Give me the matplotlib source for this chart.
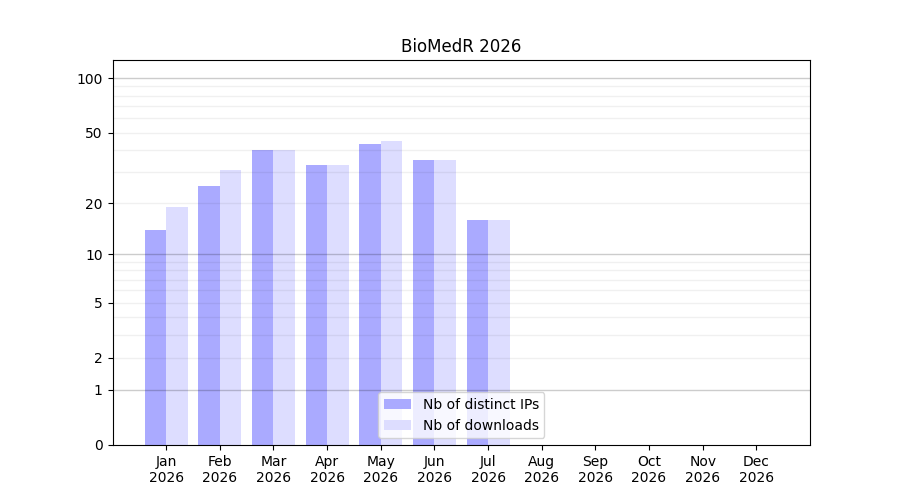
import numpy as np
import matplotlib
matplotlib.use("Agg")
import matplotlib.pyplot as plt

months = ["Jan", "Feb", "Mar", "Apr", "May", "Jun", "Jul", "Aug", "Sep", "Oct", "Nov", "Dec"]
year = "2026"
ips = [14, 25, 40, 33, 43, 35, 16, 0, 0, 0, 0, 0]
downloads = [19, 31, 40, 33, 45, 35, 16, 0, 0, 0, 0, 0]
ytick_vals = [0, 1, 2, 5, 10, 20, 50, 100]
major_grid = [1, 10, 100]
minor_grid = [2, 3, 4, 5, 6, 7, 8, 9, 20, 30, 40, 50, 60, 70, 80, 90]


def fwd(y):
    return np.log10(1 + np.maximum(y, -0.999))


def inv(t):
    return 10 ** t - 1


fig, ax = plt.subplots(figsize=(9, 5), dpi=100)
x = np.arange(len(months))
w = 0.4
ax.bar(x - w / 2, ips, width=w, color="#aaaaff", label="Nb of distinct IPs", zorder=1)
ax.bar(x + w / 2, downloads, width=w, color="#ddddff", label="Nb of downloads", zorder=1)

ax.set_yscale("function", functions=(fwd, inv))
ax.set_ylim(0, 126)
ax.set_xlim(-1, 12)
ax.set_yticks(ytick_vals)
ax.set_yticklabels([str(v) for v in ytick_vals])
ax.minorticks_off()
ax.set_xticks(x)
ax.set_xticklabels([f"{m}\n{year}" for m in months])

for g in major_grid:
    ax.axhline(g, color="#000000", alpha=0.2, lw=1, zorder=2)
for g in minor_grid:
    ax.axhline(g, color="#000000", alpha=0.06, lw=1, zorder=2)

ax.set_title("BioMedR 2026")
ax.legend(loc="lower center")
fig.savefig("out.png", dpi=100)
